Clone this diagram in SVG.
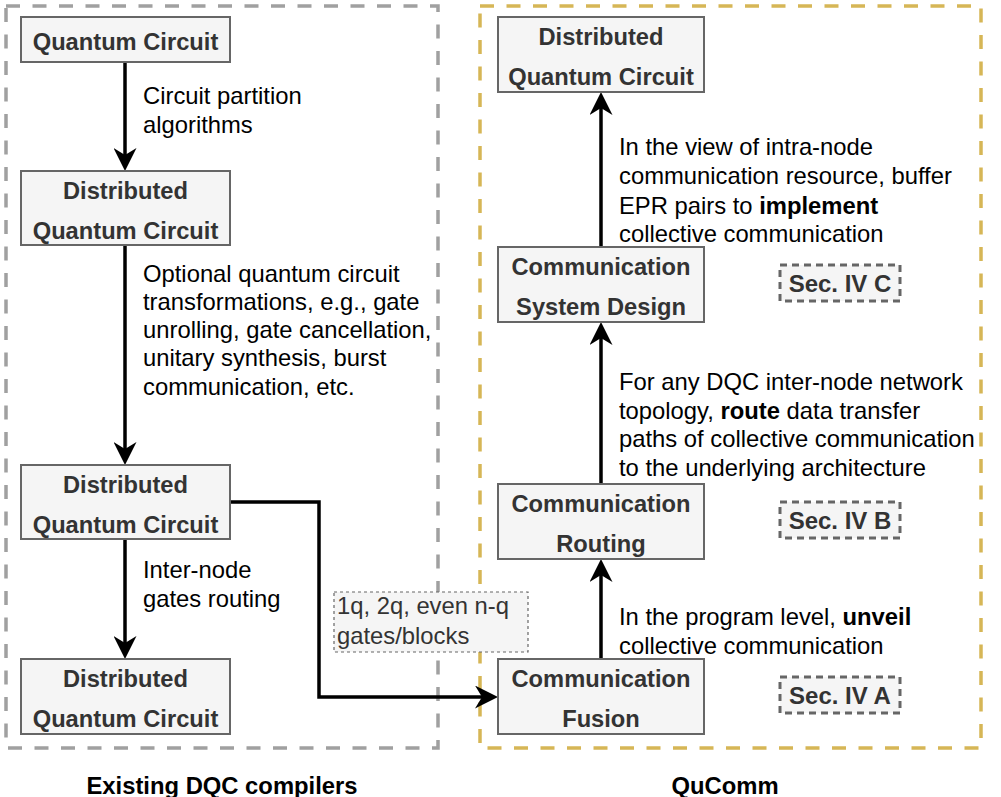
<svg xmlns="http://www.w3.org/2000/svg" width="1001" height="797" viewBox="0 0 1001 797">
<style>
.node rect{fill:#f5f5f5;stroke:#666666;stroke-width:2}
.node text{font-family:"Liberation Sans",Arial,sans-serif;font-weight:bold;font-size:23.7px;fill:#333333;text-anchor:middle}
.lbl{font-family:"Liberation Sans",Arial,sans-serif;font-size:23.8px;fill:#000000}
.sec rect{fill:#f5f5f5;stroke:#666666;stroke-width:3;stroke-dasharray:7 5}
.sec text{font-family:"Liberation Sans",Arial,sans-serif;font-weight:bold;font-size:24px;fill:#333333;text-anchor:middle}
.edge{fill:none;stroke:#000000;stroke-width:3.5}
.title{font-family:"Liberation Sans",Arial,sans-serif;font-weight:bold;font-size:23.8px;fill:#000000;text-anchor:middle}
</style>
<defs>
<marker id="arr" markerUnits="userSpaceOnUse" markerWidth="23" markerHeight="23" refX="7" refY="11.5" orient="auto">
<path d="M0,0 L23,11.5 L0,23 L7,11.5 Z" fill="#000000"/>
</marker>
</defs>
<rect width="1001" height="797" fill="#ffffff"/>
<g id="group-existing">
<rect x="6" y="6" width="432" height="742" fill="none" stroke="#a0a0a0" stroke-width="3.5" stroke-dasharray="14 12.5"/>
</g>
<g id="group-qucomm">
<rect x="480" y="6" width="501" height="742" fill="none" stroke="#d6b656" stroke-width="3.5" stroke-dasharray="14 12.5"/>
</g>
<g id="connectors">
<line class="edge" x1="125" y1="62" x2="125" y2="155" marker-end="url(#arr)"/>
<line class="edge" x1="125" y1="245" x2="125" y2="449" marker-end="url(#arr)"/>
<line class="edge" x1="125" y1="539" x2="125" y2="643" marker-end="url(#arr)"/>
<polyline class="edge" points="230,502 319,502 319,697 482,697" marker-end="url(#arr)"/>
<line class="edge" x1="601" y1="659" x2="601" y2="575" marker-end="url(#arr)"/>
<line class="edge" x1="601" y1="484" x2="601" y2="338" marker-end="url(#arr)"/>
<line class="edge" x1="601" y1="247" x2="601" y2="108" marker-end="url(#arr)"/>
</g>
<g id="edge-labels">
<text class="lbl" x="143" y="104">Circuit partition</text>
<text class="lbl" x="143" y="133">algorithms</text>
<text class="lbl" x="143" y="282">Optional quantum circuit</text>
<text class="lbl" x="143" y="310">transformations, e.g., gate</text>
<text class="lbl" x="143" y="338">unrolling, gate cancellation,</text>
<text class="lbl" x="143" y="366">unitary synthesis, burst</text>
<text class="lbl" x="143" y="395">communication, etc.</text>
<text class="lbl" x="143" y="578">Inter-node</text>
<text class="lbl" x="143" y="607">gates routing</text>
<text class="lbl" x="619" y="155">In the view of intra-node</text>
<text class="lbl" x="619" y="184">communication resource, buffer</text>
<text class="lbl" x="619" y="214">EPR pairs to <tspan font-weight="bold">implement</tspan></text>
<text class="lbl" x="619" y="242">collective communication</text>
<text class="lbl" x="619" y="390">For any DQC inter-node network</text>
<text class="lbl" x="619" y="419">topology, <tspan font-weight="bold">route</tspan> data transfer</text>
<text class="lbl" x="619" y="447">paths of collective communication</text>
<text class="lbl" x="619" y="476">to the underlying architecture</text>
<text class="lbl" x="619" y="625">In the program level, <tspan font-weight="bold">unveil</tspan></text>
<text class="lbl" x="619" y="654">collective communication</text>
</g>
<g id="label-gates">
<rect x="334" y="592" width="194" height="60" fill="#f5f5f5" stroke="#666666" stroke-width="1.2" stroke-dasharray="3 3"/>
<text class="lbl" x="337" y="614" style="fill:#333333">1q, 2q, even n-q</text>
<text class="lbl" x="337" y="644" style="fill:#333333">gates/blocks</text>
</g>
<g id="n-qc" class="node">
<rect x="21" y="17" width="209" height="45"/>
<text x="125.5" y="50">Quantum Circuit</text>
</g>
<g id="n-dqc1" class="node">
<rect x="21" y="171" width="209" height="74"/>
<text x="125.5" y="199">Distributed</text>
<text x="125.5" y="239">Quantum Circuit</text>
</g>
<g id="n-dqc2" class="node">
<rect x="21" y="465" width="209" height="74"/>
<text x="125.5" y="493">Distributed</text>
<text x="125.5" y="533">Quantum Circuit</text>
</g>
<g id="n-dqc3" class="node">
<rect x="21" y="659" width="209" height="75"/>
<text x="125.5" y="687">Distributed</text>
<text x="125.5" y="727">Quantum Circuit</text>
</g>
<g id="n-dqc-out" class="node">
<rect x="498" y="17" width="206" height="75"/>
<text x="601" y="45">Distributed</text>
<text x="601" y="85">Quantum Circuit</text>
</g>
<g id="n-csd" class="node">
<rect x="498" y="247" width="206" height="75"/>
<text x="601" y="275">Communication</text>
<text x="601" y="315">System Design</text>
</g>
<g id="n-routing" class="node">
<rect x="498" y="484" width="206" height="75"/>
<text x="601" y="512">Communication</text>
<text x="601" y="552">Routing</text>
</g>
<g id="n-fusion" class="node">
<rect x="498" y="659" width="206" height="75"/>
<text x="601" y="687">Communication</text>
<text x="601" y="727">Fusion</text>
</g>
<g id="sec-c" class="sec">
<rect x="780" y="265" width="120" height="36"/>
<text x="840" y="292">Sec. IV C</text>
</g>
<g id="sec-b" class="sec">
<rect x="780" y="502" width="120" height="36"/>
<text x="840" y="529">Sec. IV B</text>
</g>
<g id="sec-a" class="sec">
<rect x="780" y="677" width="120" height="36"/>
<text x="840" y="704">Sec. IV A</text>
</g>
<g id="titles">
<text class="title" x="222" y="794">Existing DQC compilers</text>
<text class="title" x="725" y="794">QuComm</text>
</g>
</svg>
